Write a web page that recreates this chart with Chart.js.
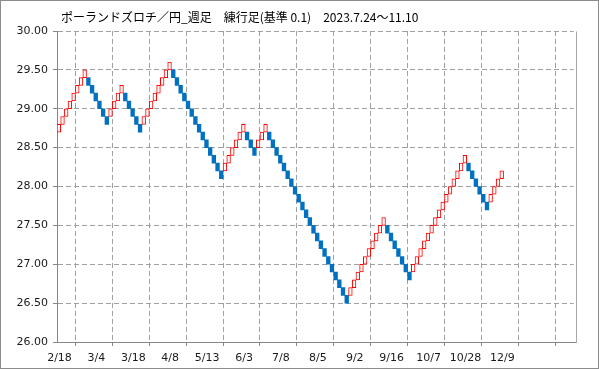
<!DOCTYPE html>
<html><head><meta charset="utf-8">
<script src="https://cdn.jsdelivr.net/npm/chart.js@4.4.0/dist/chart.umd.min.js"></script>
<style>html,body{margin:0;padding:0;background:#fff;}#wrap{width:599px;height:369px;}</style>
</head><body><div id="wrap"><canvas id="c" width="599" height="369"></canvas></div>
<script>
const TITLE = 'ポーランドズロチ／円_週足　練行足(基準 0.1)　2023.7.24～11.10';
const BRICK = 0.1;
const dateLabels = ['2/18','3/4','3/18','4/8','5/13','6/3','7/8','8/5','9/2','9/16','10/7','10/28','12/9'];
const labelEvery = 10;
const slotCount = 140;
const yMin = 26, yMax = 30, yStep = 0.5;

// bottom value of each renko brick, in order
const brickLow = [
  28.7,28.8,28.9,29.0,29.1,29.2,29.3,29.4,
  29.3,29.2,29.1,29.0,28.9,28.8,
  28.9,29.0,29.1,29.2,
  29.1,29.0,28.9,28.8,28.7,
  28.8,28.9,29.0,29.1,29.2,29.3,29.4,29.5,
  29.4,29.3,29.2,29.1,29.0,28.9,28.8,28.7,28.6,28.5,28.4,28.3,28.2,28.1,
  28.2,28.3,28.4,28.5,28.6,28.7,
  28.6,28.5,28.4,
  28.5,28.6,28.7,
  28.6,28.5,28.4,28.3,28.2,28.1,28.0,27.9,27.8,27.7,27.6,27.5,27.4,27.3,27.2,27.1,27.0,26.9,26.8,26.7,26.6,26.5,
  26.6,26.7,26.8,26.9,27.0,27.1,27.2,27.3,27.4,27.5,
  27.4,27.3,27.2,27.1,27.0,26.9,26.8,
  26.9,27.0,27.1,27.2,27.3,27.4,27.5,27.6,27.7,27.8,27.9,28.0,28.1,28.2,28.3,
  28.2,28.1,28.0,27.9,27.8,27.7,
  27.8,27.9,28.0,28.1
];
// U = up brick (red), D = down brick (blue)
const brickDir = [
  'UUUUUUUU','DDDDDD','UUUU','DDDDD','UUUUUUUU','DDDDDDDDDDDDDD','UUUUUU','DDD','UUU',
  'DDDDDDDDDDDDDDDDDDDDDD','UUUUUUUUUU','DDDDDDD','UUUUUUUUUUUUUUU','DDDDDD','UUUU'
].join('');

const upData = [], downData = [];
brickLow.forEach((lo, i) => {
  const pt = {x: i + 0.5, y: [lo, Math.round((lo + BRICK) * 10) / 10]};
  (brickDir[i] === 'U' ? upData : downData).push(pt);
});

const decor = {
  id: 'decor',
  beforeDraw(chart) {
    const ctx = chart.ctx;
    ctx.save(); ctx.fillStyle = '#fff'; ctx.fillRect(0, 0, chart.width, chart.height); ctx.restore();
  },
  afterDraw(chart) {
    const ctx = chart.ctx, a = chart.chartArea;
    ctx.save();
    ctx.strokeStyle = '#a6a6a6'; ctx.lineWidth = 1;
    ctx.beginPath();
    const rx = Math.round(a.right + 2.5) + 0.5;
    ctx.moveTo(rx, Math.round(a.top) + 0.5); ctx.lineTo(rx, Math.round(a.bottom) + 0.5);
    ctx.stroke();
    ctx.strokeStyle = '#868686';
    ctx.beginPath();
    ctx.moveTo(a.right, Math.round(a.bottom) + 0.5); ctx.lineTo(rx, Math.round(a.bottom) + 0.5);
    ctx.stroke();
    ctx.strokeStyle = '#8c8c8c';
    ctx.strokeRect(0.5, 0.5, chart.width - 1, chart.height - 1);
    ctx.fillStyle = '#000';
    ctx.font = '12px "Noto Sans CJK JP"';
    ctx.textBaseline = 'middle';
    ctx.fillText(TITLE, 61, 17);
    ctx.restore();
  }
};

new Chart(document.getElementById('c'), {
  type: 'bar',
  data: {
    datasets: [
      {label: 'up', data: upData, backgroundColor: '#ffffff', borderColor: '#ff0000', borderWidth: 1,
       borderSkipped: false, barPercentage: 1, categoryPercentage: 1, grouped: false},
      {label: 'down', data: downData, backgroundColor: '#0070c0', borderWidth: 0,
       barPercentage: 1, categoryPercentage: 1, grouped: false}
    ]
  },
  options: {
    responsive: false, animation: false, events: [],
    layout: {padding: {left: 0, right: 25.3, top: 31, bottom: 0}},
    plugins: {legend: {display: false}, title: {display: false}, tooltip: {enabled: false}},
    scales: {
      x: {
        type: 'linear', min: 0, max: slotCount, offset: false,
        afterFit: s => { s.height = 27; },
        ticks: {
          stepSize: labelEvery, autoSkip: false, maxRotation: 0, padding: 6, labelOffset: 2.5,
          color: '#1a1a1a', font: {family: '"DejaVu Sans"', size: 11},
          callback: v => dateLabels[v / labelEvery] || ''
        },
        grid: {color: '#a0a0a0', lineWidth: 1, tickLength: 4, tickColor: '#868686', tickBorderDash: []},
        border: {display: true, color: '#868686', width: 1, dash: [5, 3]}
      },
      y: {
        min: yMin, max: yMax,
        afterFit: s => { s.width = 57; },
        ticks: {
          stepSize: yStep, padding: 5, color: '#1a1a1a', font: {family: '"DejaVu Sans"', size: 11},
          callback: v => Number(v).toFixed(2)
        },
        grid: {color: '#a0a0a0', lineWidth: 1, tickLength: 4, tickColor: '#868686', tickBorderDash: []},
        border: {display: true, color: '#868686', width: 1, dash: [5, 3]}
      }
    }
  },
  plugins: [decor]
});
</script>
</body></html>
